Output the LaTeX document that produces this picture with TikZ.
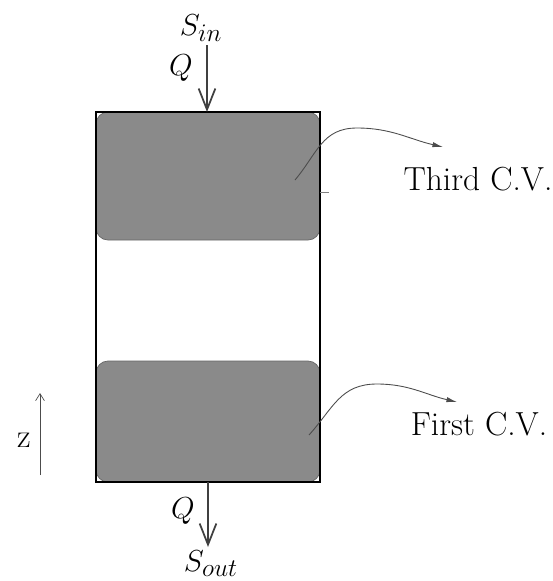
\documentclass[tikz,border=0pt]{standalone}
\usepackage{tikz}
\usetikzlibrary{shapes,arrows.meta}
\usepackage{color}
\definecolor{cvgray}{HTML}{8A8A8A}

\begin{document}
\begin{tikzpicture}[font=\fontsize{19}{23}\selectfont]
    % Define styles
    \tikzstyle{wall} = [rectangle, draw, thick, inner sep=0pt, outer sep=0pt, minimum width=4.48cm]
    \tikzstyle{cv} = [rectangle, draw=black!60, fill=cvgray, rounded corners=0.24cm, inner sep=0pt, outer sep=0pt, minimum width=4.48cm]
    \tikzstyle{flow} = [draw=black!75, line width=1pt, -{Straight Barb[length=12pt,width=9.5pt]}]
    \tikzstyle{pointer} = [draw=black!70, line width=0.5pt, -{Latex[length=6pt,width=3pt]}]
    \useasboundingbox (0,0) rectangle (11.06,-11.62);

    % Components
    \node [cv, minimum height=2.56cm] (thirdcv) at (4.16,-3.52) {};
    \node [cv, minimum height=2.42cm] (firstcv) at (4.16,-8.43) {};
    \node [wall, minimum height=7.40cm] (tank) at (4.16,-5.94) {};
    \node (sin) at (4.02,-0.56) {$S_{in}$};
    \node (qin) at (3.62,-1.36) {$Q$};
    \node (qout) at (3.66,-10.22) {$Q$};
    \node (sout) at (4.22,-11.28) {$S_{out}$};
    \node (thirdlabel) at (9.56,-3.58) {Third C.V.};
    \node (firstlabel) at (9.58,-8.48) {First C.V.};
    \node (zlabel) at (0.48,-8.80) {z};
    \coordinate (intop) at (4.14,-0.90);
    \coordinate (outbot) at (4.16,-10.94);
    \coordinate (thirdtop) at (7.14,-2.56);
    \coordinate (thirdtip) at (8.86,-2.94);
    \coordinate (firsttop) at (7.54,-7.68);
    \coordinate (firsttip) at (9.14,-8.04);
    \coordinate (zbot) at (0.80,-9.50);
    \coordinate (ztop) at (0.80,-7.86);
    \coordinate (tick) at (6.58,-3.84);

    % Connections
    \draw [flow] (intop) -- (intop |- tank.north);
    \draw [flow] (outbot |- tank.south) -- (outbot);
    \draw [pointer] ([xshift=1.74cm,yshift=-0.08cm]thirdcv.center) to[out=50,in=180,looseness=1.1] (thirdtop) to[out=0,in=167] (thirdtip);
    \draw [pointer] ([xshift=2.02cm,yshift=-0.27cm]firstcv.center) to[out=48,in=180,looseness=1.1] (firsttop) to[out=0,in=167] (firsttip);
    \draw [draw=black!70, line width=0.4pt, -{Straight Barb[length=4pt,width=5pt]}] (zbot) -- (ztop);
    \draw [black!50] (tick -| tank.east) -- (tick);
\end{tikzpicture}
\end{document}
